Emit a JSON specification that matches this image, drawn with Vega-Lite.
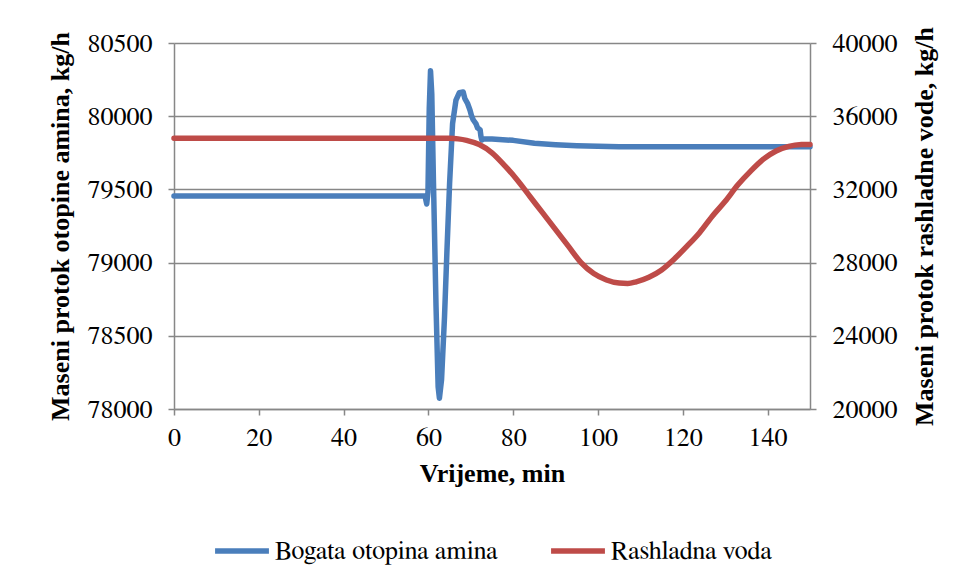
{
  "$schema": "https://vega.github.io/schema/vega-lite/v6.json",
  "autosize": {"type": "none"},
  "width": 636,
  "height": 366,
  "padding": {"left": 174, "top": 43, "right": 155, "bottom": 172},
  "background": "white",
  "config": {
    "font": "FreeSerif",
    "view": {"stroke": null},
    "axis": {
      "labelFont": "FreeSerif",
      "labelFontSize": 26,
      "labelColor": "#000000",
      "titleFont": "Liberation Serif",
      "titleFontSize": 26,
      "titleFontWeight": "bold",
      "titleColor": "#000000",
      "domainColor": "#878787",
      "domainWidth": 1.5,
      "tickColor": "#878787",
      "tickWidth": 1.5,
      "tickSize": 6,
      "gridColor": "#878787",
      "gridWidth": 1.5
    },
    "legend": {
      "orient": "none",
      "legendX": 38,
      "legendY": 478,
      "direction": "horizontal",
      "symbolType": "stroke",
      "symbolSize": 2900,
      "symbolStrokeWidth": 5.5,
      "labelFont": "FreeSerif",
      "labelFontSize": 26,
      "labelColor": "#000000",
      "labelOffset": 3,
      "columnPadding": 42,
      "labelLimit": 400
    }
  },
  "data": {
    "values": [
      {"t": 0, "v": 79455, "s": "Bogata otopina amina"},
      {"t": 59.2, "v": 79455, "s": "Bogata otopina amina"},
      {"t": 59.6, "v": 79400, "s": "Bogata otopina amina"},
      {"t": 59.9, "v": 79480, "s": "Bogata otopina amina"},
      {"t": 60.2, "v": 80050, "s": "Bogata otopina amina"},
      {"t": 60.5, "v": 80310, "s": "Bogata otopina amina"},
      {"t": 60.8, "v": 80150, "s": "Bogata otopina amina"},
      {"t": 61.2, "v": 79542, "s": "Bogata otopina amina"},
      {"t": 61.8, "v": 78700, "s": "Bogata otopina amina"},
      {"t": 62.3, "v": 78150, "s": "Bogata otopina amina"},
      {"t": 62.6, "v": 78073, "s": "Bogata otopina amina"},
      {"t": 63.1, "v": 78200, "s": "Bogata otopina amina"},
      {"t": 63.8, "v": 78630, "s": "Bogata otopina amina"},
      {"t": 64.4, "v": 79100, "s": "Bogata otopina amina"},
      {"t": 65.0, "v": 79542, "s": "Bogata otopina amina"},
      {"t": 65.7, "v": 79950, "s": "Bogata otopina amina"},
      {"t": 66.5, "v": 80110, "s": "Bogata otopina amina"},
      {"t": 67.3, "v": 80160, "s": "Bogata otopina amina"},
      {"t": 68.2, "v": 80165, "s": "Bogata otopina amina"},
      {"t": 68.6, "v": 80120, "s": "Bogata otopina amina"},
      {"t": 69.2, "v": 80090, "s": "Bogata otopina amina"},
      {"t": 69.8, "v": 80042, "s": "Bogata otopina amina"},
      {"t": 70.2, "v": 80000, "s": "Bogata otopina amina"},
      {"t": 70.6, "v": 79974, "s": "Bogata otopina amina"},
      {"t": 71.2, "v": 79950, "s": "Bogata otopina amina"},
      {"t": 71.6, "v": 79920, "s": "Bogata otopina amina"},
      {"t": 72.2, "v": 79906, "s": "Bogata otopina amina"},
      {"t": 72.4, "v": 79860, "s": "Bogata otopina amina"},
      {"t": 72.6, "v": 79837, "s": "Bogata otopina amina"},
      {"t": 73, "v": 79845, "s": "Bogata otopina amina"},
      {"t": 75, "v": 79845, "s": "Bogata otopina amina"},
      {"t": 80, "v": 79835, "s": "Bogata otopina amina"},
      {"t": 85, "v": 79815, "s": "Bogata otopina amina"},
      {"t": 90, "v": 79805, "s": "Bogata otopina amina"},
      {"t": 95, "v": 79798, "s": "Bogata otopina amina"},
      {"t": 100, "v": 79794, "s": "Bogata otopina amina"},
      {"t": 105, "v": 79792, "s": "Bogata otopina amina"},
      {"t": 150, "v": 79792, "s": "Bogata otopina amina"},
      {"t": 0, "v": 34800, "s": "Rashladna voda"},
      {"t": 60, "v": 34800, "s": "Rashladna voda"},
      {"t": 65, "v": 34790, "s": "Rashladna voda"},
      {"t": 67, "v": 34760, "s": "Rashladna voda"},
      {"t": 69, "v": 34680, "s": "Rashladna voda"},
      {"t": 72, "v": 34450, "s": "Rashladna voda"},
      {"t": 75, "v": 34000, "s": "Rashladna voda"},
      {"t": 78, "v": 33300, "s": "Rashladna voda"},
      {"t": 81, "v": 32500, "s": "Rashladna voda"},
      {"t": 84, "v": 31600, "s": "Rashladna voda"},
      {"t": 87, "v": 30700, "s": "Rashladna voda"},
      {"t": 90, "v": 29800, "s": "Rashladna voda"},
      {"t": 93, "v": 28900, "s": "Rashladna voda"},
      {"t": 96, "v": 28000, "s": "Rashladna voda"},
      {"t": 99, "v": 27400, "s": "Rashladna voda"},
      {"t": 102, "v": 27050, "s": "Rashladna voda"},
      {"t": 105, "v": 26880, "s": "Rashladna voda"},
      {"t": 107, "v": 26860, "s": "Rashladna voda"},
      {"t": 109, "v": 26950, "s": "Rashladna voda"},
      {"t": 112, "v": 27200, "s": "Rashladna voda"},
      {"t": 115, "v": 27600, "s": "Rashladna voda"},
      {"t": 118, "v": 28200, "s": "Rashladna voda"},
      {"t": 121, "v": 28900, "s": "Rashladna voda"},
      {"t": 124, "v": 29650, "s": "Rashladna voda"},
      {"t": 127, "v": 30550, "s": "Rashladna voda"},
      {"t": 130, "v": 31350, "s": "Rashladna voda"},
      {"t": 133, "v": 32250, "s": "Rashladna voda"},
      {"t": 136, "v": 33000, "s": "Rashladna voda"},
      {"t": 139, "v": 33650, "s": "Rashladna voda"},
      {"t": 142, "v": 34100, "s": "Rashladna voda"},
      {"t": 145, "v": 34350, "s": "Rashladna voda"},
      {"t": 148, "v": 34450, "s": "Rashladna voda"},
      {"t": 150, "v": 34460, "s": "Rashladna voda"}
    ]
  },
  "encoding": {
    "x": {
      "field": "t",
      "type": "quantitative",
      "scale": {"domain": [0, 150], "nice": false, "zero": false},
      "axis": {
        "title": "Vrijeme, min",
        "values": [0, 20, 40, 60, 80, 100, 120, 140],
        "grid": false,
        "labelPadding": 9,
        "titlePadding": 10,
        "labelFlush": false,
        "labelFont": "FreeSerif"
      }
    },
    "color": {
      "field": "s",
      "type": "nominal",
      "scale": {"domain": ["Bogata otopina amina", "Rashladna voda"], "range": ["#4A7EBB", "#BE4B48"]},
      "legend": {"title": null, "labelFont": "FreeSerif"}
    }
  },
  "layer": [
    {
      "transform": [{"filter": "datum.s === 'Bogata otopina amina'"}],
      "mark": {"type": "line", "strokeWidth": 5.5, "strokeCap": "round", "strokeJoin": "round"},
      "encoding": {
        "y": {
          "field": "v",
          "type": "quantitative",
          "scale": {"domain": [78000, 80500], "nice": false, "zero": false},
          "axis": {
            "orient": "left",
            "title": "Maseni protok otopine amina, kg/h",
            "values": [78000, 78500, 79000, 79500, 80000, 80500],
            "format": "d",
            "grid": true,
            "labelPadding": 16,
            "titlePadding": 13,
            "labelFont": "FreeSerif"
          }
        }
      }
    },
    {
      "transform": [{"filter": "datum.s === 'Rashladna voda'"}],
      "mark": {"type": "line", "strokeWidth": 5.5, "strokeCap": "round", "interpolate": "monotone"},
      "encoding": {
        "y": {
          "field": "v",
          "type": "quantitative",
          "scale": {"domain": [20000, 40000], "nice": false, "zero": false},
          "axis": {
            "orient": "right",
            "title": "Maseni protok rashladne vode, kg/h",
            "values": [20000, 24000, 28000, 32000, 36000, 40000],
            "format": "d",
            "grid": false,
            "labelPadding": 16,
            "titleAngle": 270,
            "titleBaseline": "top",
            "titlePadding": 14,
            "labelFont": "FreeSerif"
          }
        }
      }
    }
  ],
  "resolve": {"scale": {"y": "independent"}}
}
